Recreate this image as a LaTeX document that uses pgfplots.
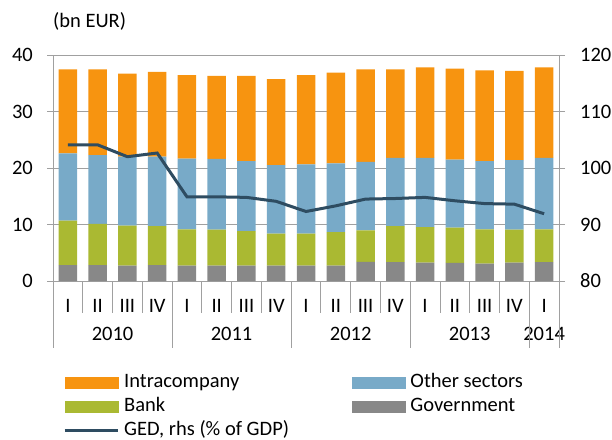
\documentclass[border=0pt]{standalone}
\usepackage{pgfplots}
\pgfplotsset{compat=1.18}
\usepackage{pgfplotstable}
\usepackage{fontspec}
\setmainfont{Carlito}
\definecolor{cIntra}{RGB}{247,148,16}
\definecolor{cOther}{RGB}{120,170,200}
\definecolor{cBank}{RGB}{170,185,50}
\definecolor{cGov}{RGB}{136,136,136}
\definecolor{cLine}{RGB}{46,76,97}
\definecolor{cGrid}{RGB}{160,160,160}
\pgfplotstableread{
q gov bank other intra ged
0 2.83 7.85 11.92 14.86 104.1
1 2.83 7.26 12.21 15.16 104.1
2 2.70 7.10 12.20 14.70 102.0
3 2.83 6.87 12.30 15.00 102.65
4 2.70 6.44 12.51 14.81 94.9
5 2.70 6.40 12.50 14.70 94.9
6 2.70 6.15 12.35 15.10 94.8
7 2.70 5.70 12.10 15.25 94.1
8 2.70 5.70 12.25 15.81 92.3
9 2.70 5.97 12.13 16.10 93.3
10 3.40 5.57 12.13 16.36 94.5
11 3.35 6.35 12.10 15.66 94.6
12 3.24 6.31 12.25 16.00 94.8
13 3.19 6.25 12.06 16.10 94.2
14 3.07 6.07 12.06 16.10 93.7
15 3.24 5.86 12.30 15.80 93.6
16 3.36 5.78 12.66 16.00 91.9
}\data
\begin{document}
\fontsize{20.5}{24}\selectfont
\begin{tikzpicture}
\useasboundingbox (0pt,0pt) rectangle (612pt,439pt);
\node[anchor=base west, inner sep=0pt] at (53pt,411pt) {(bn EUR)};
\begin{axis}[
  at={(53pt,158pt)}, anchor=south west,
  scale only axis, width=506pt, height=226pt,
  xmin=-0.5, xmax=16.5, ymin=0, ymax=40,
  ytick={0,10,20,30,40},
  ymajorgrids, grid style={cGrid, line width=0.8pt},
  axis line style={cGrid, line width=0.8pt},
  axis y line*=left, axis x line*=bottom,
  every tick/.style={cGrid, line width=0.8pt},
  tick align=outside, major tick length=6pt,
  xtick={0,...,16},
  xticklabels={I,II,III,IV,I,II,III,IV,I,II,III,IV,I,II,III,IV,I},
  x tick style={draw=none},
  xticklabel style={anchor=center, inner sep=0pt, yshift=-19pt},
  yticklabel style={anchor=east, inner sep=0pt, xshift=-14pt},
  /pgf/number format/assume math mode=true,
  ybar stacked, bar width=18.5pt, bar shift=0pt,
  clip=false,
  legend columns=2,
  legend cell align=left,
  legend style={draw=none, fill=none, inner sep=0pt, at={(rel axis cs:0,0)}, anchor=north west, xshift=10pt, yshift=-91pt,
    nodes={inner sep=1pt, text height=14pt, text depth=4pt}, row sep=4pt,
    /tikz/every even column/.style={column sep=62pt},
    /tikz/every odd column/.style={column sep=4pt}},
]
\addplot[fill=cGov, draw=none, forget plot] table[x=q, y=gov]{\data};
\addplot[fill=cBank, draw=none, forget plot] table[x=q, y=bank]{\data};
\addplot[fill=cOther, draw=none, forget plot] table[x=q, y=other]{\data};
\addplot[fill=cIntra, draw=none, forget plot] table[x=q, y=intra]{\data};
\addlegendimage{legend image code/.code={\fill[cIntra] (0pt,-5.5pt) rectangle (53pt,5.5pt);}}
\addlegendimage{legend image code/.code={\fill[cOther] (0pt,-5.5pt) rectangle (53pt,5.5pt);}}
\addlegendimage{legend image code/.code={\fill[cBank] (0pt,-5.5pt) rectangle (53pt,5.5pt);}}
\addlegendimage{legend image code/.code={\fill[cGov] (0pt,-5.5pt) rectangle (53pt,5.5pt);}}
\addlegendimage{legend image code/.code={\draw[cLine, line width=3pt] (0pt,0pt) -- (53pt,0pt);}}
\legend{Intracompany,Other sectors,Bank,Government,{GED, rhs (\% of GDP)}}
\pgfplotsinvokeforeach{0.5,1.5,2.5,4.5,5.5,6.5,8.5,9.5,10.5,12.5,13.5,14.5}{
  \draw[cGrid, line width=0.8pt] (axis cs:#1,0) -- ++(0pt,-32pt);
}
\pgfplotsinvokeforeach{-0.5,3.5,7.5,11.5,15.5,16.5}{
  \draw[cGrid, line width=0.8pt] (axis cs:#1,0) -- ++(0pt,-67pt);
}
\node[inner sep=0pt] at ([yshift=-53pt]axis cs:1.5,0) {2010};
\node[inner sep=0pt] at ([yshift=-53pt]axis cs:5.5,0) {2011};
\node[inner sep=0pt] at ([yshift=-53pt]axis cs:9.5,0) {2012};
\node[inner sep=0pt] at ([yshift=-53pt]axis cs:13.5,0) {2013};
\node[inner sep=0pt] at ([yshift=-53pt]axis cs:16,0) {2014};
\end{axis}
\begin{axis}[
  at={(53pt,158pt)}, anchor=south west,
  scale only axis, width=506pt, height=226pt,
  xmin=-0.5, xmax=16.5, ymin=80, ymax=120,
  ytick={80,90,100,110,120},
  axis y line*=right, axis x line=none,
  axis line style={cGrid, line width=0.8pt},
  every tick/.style={cGrid, line width=0.8pt},
  tick align=outside, major tick length=6pt,
  yticklabel style={anchor=west, inner sep=0pt, xshift=15pt},
  /pgf/number format/assume math mode=true,
]
\addplot[cLine, line width=3pt, no marks] table[x=q, y=ged]{\data};
\end{axis}
\end{tikzpicture}
\end{document}
